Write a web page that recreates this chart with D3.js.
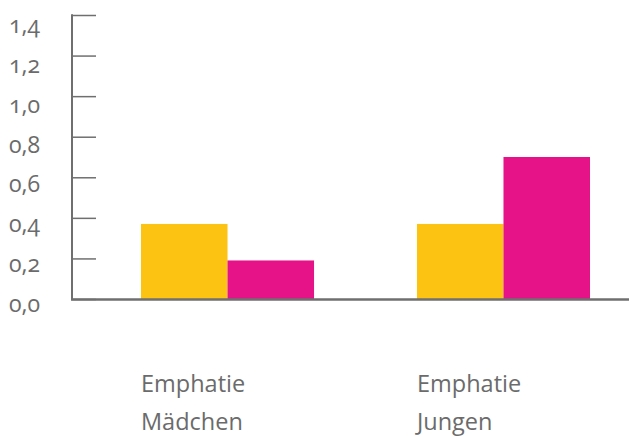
<!DOCTYPE html>
<html>
<head>
<meta charset="utf-8">
<script src="https://cdn.jsdelivr.net/npm/d3@7"></script>
<style>
  html, body { margin: 0; padding: 0; background: #fff; }
  svg text { font-family: "Open Sans", "Lato", sans-serif; fill: #6b6b6b; font-variant-numeric: oldstyle-nums; font-feature-settings: "onum"; }
</style>
</head>
<body>
<svg id="chart" width="629" height="438"></svg>
<script>
// Categories (two-line labels) and series values
const categories = ["Emphatie Mädchen", "Emphatie Jungen"];
const categoryLines = [["Emphatie", "Mädchen"], ["Emphatie", "Jungen"]];
const seriesNames = ["A", "B"];
const seriesA = [0.37, 0.37];
const seriesB = [0.19, 0.70];
const yTicks = [0, 0.2, 0.4, 0.6, 0.8, 1.0, 1.2, 1.4];
const yTickLabels = ["0,0", "0,2", "0,4", "0,6", "0,8", "1,0", "1,2", "1,4"];

const colors = { A: "#FCC313", B: "#E61388" };
const axisColor = "#6f6f6f";

const svg = d3.select("#chart");
const W = 629, H = 438;
const axisX = 72, baseY = 299, topY = 15;

const y = d3.scaleLinear().domain([0, 1.4]).range([baseY, topY]);
// tick labels sit just below their tick marks
const yLabel = d3.scaleLinear().domain([0, 1.4]).range([312, 33]);
const x0 = d3.scaleBand().domain(categories).range([72, 659])
  .paddingInner(0.373).paddingOuter(0.25);
const x1 = d3.scaleBand().domain(seriesNames).range([0, x0.bandwidth()]).padding(0);

const rows = categories.map((c, i) => ({ cat: c, A: seriesA[i], B: seriesB[i] }));

// Bars
const groups = svg.append("g").selectAll("g").data(rows).join("g")
  .attr("transform", d => `translate(${x0(d.cat)},0)`);
groups.selectAll("rect")
  .data(d => seriesNames.map(k => ({ key: k, value: d[k] })))
  .join("rect")
  .attr("x", d => x1(d.key))
  .attr("width", x1.bandwidth())
  .attr("y", d => y(d.value))
  .attr("height", d => y(0) - y(d.value))
  .attr("fill", d => colors[d.key]);

// Y axis: vertical line with ticks pointing right
const axis = svg.append("g").attr("transform", `translate(${axisX},0)`)
  .call(d3.axisRight(y).tickValues(yTicks).tickSize(24).tickFormat(""));
axis.select(".domain").remove();
axis.selectAll(".tick line").attr("stroke", axisColor).attr("stroke-width", 1.5);
svg.append("line")
  .attr("x1", axisX).attr("x2", axisX)
  .attr("y1", y(1.4) - 0.75).attr("y2", baseY)
  .attr("stroke", axisColor).attr("stroke-width", 2);

// Baseline
svg.append("line")
  .attr("x1", axisX - 1).attr("x2", W)
  .attr("y1", baseY + 0.5).attr("y2", baseY + 0.5)
  .attr("stroke", axisColor).attr("stroke-width", 2.5);

// Tick labels
svg.append("g").selectAll("text").data(yTicks).join("text")
  .attr("x", 9)
  .attr("y", d => yLabel(d))
  .attr("font-size", 23)
  .text((d, i) => yTickLabels[i]);

// Category labels
const catLabels = svg.append("g").selectAll("text").data(categories).join("text")
  .attr("x", d => x0(d))
  .attr("y", 392)
  .attr("font-size", 23.5);
catLabels.selectAll("tspan")
  .data((d, i) => categoryLines[i])
  .join("tspan")
  .attr("x", function () { return d3.select(this.parentNode).attr("x"); })
  .attr("dy", (d, i) => i === 0 ? 0 : 38)
  .text(d => d);
</script>
</body>
</html>
